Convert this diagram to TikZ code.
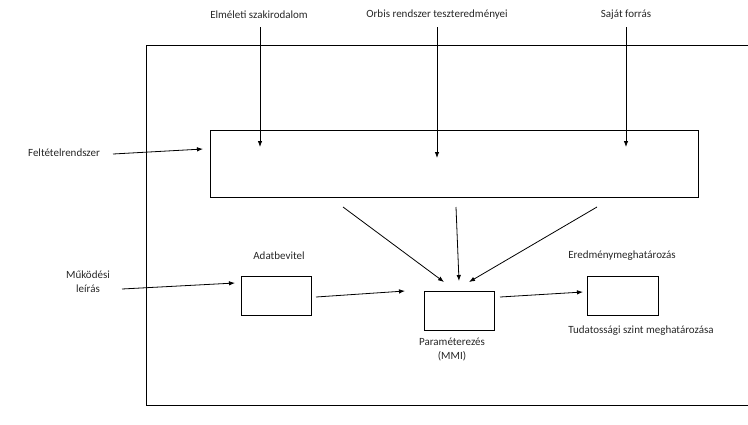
\documentclass[tikz,border=0pt]{standalone}
\usepackage{fontspec}
\setmainfont{Carlito}
\usetikzlibrary{arrows.meta}
\begin{document}
\begin{tikzpicture}[x=1pt,y=-1pt,
  lbl/.style={font=\fontsize{11}{13.5}\selectfont, text=black!85, inner sep=0pt, align=center},
  boxx/.style={draw, line width=0.8pt, inner sep=0pt},
  arr/.style={draw, line width=0.8pt, -{Latex[length=6pt,width=4.5pt]}}]
\useasboundingbox (0,0) rectangle (748,424);
\begin{scope}
\clip (0,0) rectangle (748,424);
\draw[line width=0.8pt] (760,45) -- (146,45) -- (146,405) -- (760,405);
\end{scope}
% boxes
\node[boxx, minimum width=488pt, minimum height=67pt] (big) at (454,163.5) {};
\node[boxx, minimum width=70pt, minimum height=39pt] (b1) at (276,295.5) {};
\node[boxx, minimum width=70pt, minimum height=39pt] (b2) at (459,310.5) {};
\node[boxx, minimum width=71pt, minimum height=39pt] (b3) at (622.5,295.5) {};
% labels
\node[lbl] (t1) at (259,15) {Elméleti szakirodalom};
\node[lbl] (t2) at (437,15) {Orbis rendszer teszteredményei};
\node[lbl] (t3) at (626,15) {Saját forrás};
\node[lbl] (fel) at (64,153) {Feltételrendszer};
\node[lbl] (mu) at (88,281.5) {Működési\\leírás};
\node[lbl] (ad) at (279,256) {Adatbevitel};
\node[lbl] (er) at (622,256) {Eredménymeghatározás};
\node[lbl] (par) at (452,349.5) {Paraméterezés\\(MMI)};
\node[lbl] (tud) at (641,331) {Tudatossági szint meghatározása};
% coordinates
\coordinate (e1) at (260,147);
\coordinate (e2) at (437,158);
\coordinate (e3) at (626,147);
\coordinate (s1) at (343,207);
\coordinate (s2) at (456,207);
\coordinate (s3) at (597,207);
\coordinate (m1) at (444,282);
\coordinate (m2) at (459,281);
\coordinate (m3) at (469,282);
\coordinate (fs) at (113,154);
\coordinate (fe) at (203,149);
\coordinate (ms) at (122,289);
\coordinate (me) at (235,283);
\coordinate (as) at (316,297);
\coordinate (ae) at (405,291);
\coordinate (ps) at (500,297);
\coordinate (pe) at (583,292);
% arrows
\draw[arr] (e1 |- 0,27) -- (e1);
\draw[arr] (e2 |- 0,27) -- (e2);
\draw[arr] (e3 |- 0,27) -- (e3);
\draw[arr] (fs) -- (fe);
\draw[arr] (ms) -- (me);
\draw[arr] (as) -- (ae);
\draw[arr] (ps) -- (pe);
\draw[arr] (s1) -- (m1);
\draw[arr] (s2) -- (m2);
\draw[arr] (s3) -- (m3);
\end{tikzpicture}
\end{document}
